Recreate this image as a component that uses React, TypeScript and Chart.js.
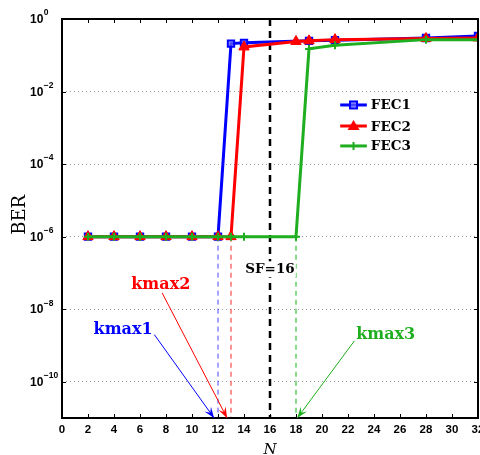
import React, { useEffect, useRef } from "react";
import { Chart, registerables } from "chart.js";

Chart.register(...registerables);

// ---- data ----
const fec1X = [2, 4, 6, 8, 10, 12, 13, 14, 19, 21, 28, 32];
const fec1Y = [1e-6, 1e-6, 1e-6, 1e-6, 1e-6, 1e-6, 0.21, 0.22, 0.25, 0.26, 0.3, 0.34];
const fec2X = [2, 4, 6, 8, 10, 12, 13, 14, 18, 19, 21, 28, 32];
const fec2Y = [1e-6, 1e-6, 1e-6, 1e-6, 1e-6, 1e-6, 1e-6, 0.17, 0.24, 0.25, 0.27, 0.29, 0.3];
const fec3X = [2, 4, 6, 8, 10, 12, 13, 14, 18, 19, 21, 28, 32];
const fec3Y = [1e-6, 1e-6, 1e-6, 1e-6, 1e-6, 1e-6, 1e-6, 1e-6, 1e-6, 0.15, 0.19, 0.27, 0.27];
const seriesNames = ["FEC1", "FEC2", "FEC3"];
const xTicks = [0, 2, 4, 6, 8, 10, 12, 14, 16, 18, 20, 22, 24, 26, 28, 30, 32];
const yTickExps = [0, -2, -4, -6, -8, -10];
const kmaxX = [12, 13, 18];
const kmaxLabels = ["kmax1", "kmax2", "kmax3"];
const sfValue = 16;

const BLUE = "#0000ff";
const RED = "#ff0000";
const GREEN = "#1fae1f";

const pts = (xs: number[], ys: number[]) => xs.map((x, i) => ({ x, y: ys[i] }));

export default function App() {
  const ref = useRef<HTMLCanvasElement | null>(null);
  useEffect(() => {
    const canvas = ref.current!;
    const overlay = {
      id: "overlay",
      afterDraw(chart: any) {
        const ctx = chart.ctx as CanvasRenderingContext2D;
        const xs = chart.scales.x;
        const ys = chart.scales.y;
        const ca = chart.chartArea;
        ctx.save();
        // SF label with white background
        const sfX = xs.getPixelForValue(sfValue);
        ctx.font = "bold 13.5px 'DejaVu Serif'";
        ctx.textBaseline = "middle";
        ctx.textAlign = "center";
        const sfText = "SF=" + sfValue;
        const w = ctx.measureText(sfText).width;
        const sfY = ys.getPixelForValue(Math.pow(10, -6.9));
        ctx.fillStyle = "#fff";
        ctx.fillRect(sfX - w / 2 - 1, sfY - 8, w + 2, 16);
        ctx.fillStyle = "#000";
        ctx.fillText(sfText, sfX, sfY);

        // box
        ctx.strokeStyle = "#000";
        ctx.lineWidth = 2;
        ctx.strokeRect(ca.left, ca.top, ca.right - ca.left, ca.bottom - ca.top);
        // inside ticks
        ctx.lineWidth = 1;
        ctx.beginPath();
        xTicks.forEach((t) => {
          const p = Math.round(xs.getPixelForValue(t)) + 0.5;
          ctx.moveTo(p, ca.bottom);
          ctx.lineTo(p, ca.bottom - 4);
          ctx.moveTo(p, ca.top);
          ctx.lineTo(p, ca.top + 4);
        });
        yTickExps.forEach((e) => {
          const p = Math.round(ys.getPixelForValue(Math.pow(10, e))) + 0.5;
          ctx.moveTo(ca.left, p);
          ctx.lineTo(ca.left + 4, p);
          ctx.moveTo(ca.right, p);
          ctx.lineTo(ca.right - 4, p);
        });
        ctx.stroke();

        // x tick labels
        ctx.fillStyle = "#000";
        ctx.font = "bold 11.5px 'Liberation Sans'";
        ctx.textAlign = "center";
        ctx.textBaseline = "middle";
        xTicks.forEach((t) => {
          ctx.fillText(String(t), xs.getPixelForValue(t), ca.bottom + 12);
        });
        // y tick labels
        yTickExps.forEach((e) => {
          const p = ys.getPixelForValue(Math.pow(10, e));
          ctx.textAlign = "left";
          ctx.font = "bold 12px 'Liberation Sans'";
          ctx.fillText("10", ca.left - 32, p + 1);
          const bw = ctx.measureText("10").width;
          ctx.font = "bold 8.5px 'Liberation Sans'";
          ctx.fillText(e === 0 ? "0" : "\u2212" + String(-e), ca.left - 32 + bw + 0.5, p - 6);
        });
        // axis titles
        ctx.font = "italic 15px 'DejaVu Serif'";
        ctx.textAlign = "center";
        ctx.fillText("N", (ca.left + ca.right) / 2, ca.bottom + 32);
        ctx.save();
        ctx.translate(20, ys.getPixelForValue(Math.pow(10, -5.4)));
        ctx.rotate(-Math.PI / 2);
        ctx.font = "18px 'DejaVu Serif'";
        ctx.fillText("BER", 0, 0);
        ctx.restore();

        // legend
        const colors = [BLUE, RED, GREEN];
        const styles = ["rect", "triangle", "cross"];
        const lx0 = xs.getPixelForValue(21.4);
        const lx1 = xs.getPixelForValue(23.45);
        const rows = [-2.37, -2.95, -3.5];
        seriesNames.forEach((name, i) => {
          const y = ys.getPixelForValue(Math.pow(10, rows[i]));
          ctx.strokeStyle = colors[i];
          ctx.lineWidth = 3;
          ctx.beginPath();
          ctx.moveTo(lx0, y);
          ctx.lineTo(lx1, y);
          ctx.stroke();
          const mx = (lx0 + lx1) / 2;
          ctx.fillStyle = colors[i];
          if (styles[i] === "rect") {
            ctx.lineWidth = 2;
            ctx.fillStyle = "rgba(120,120,255,0.6)";
            ctx.fillRect(mx - 3.5, y - 3.5, 7, 7);
            ctx.strokeRect(mx - 3.5, y - 3.5, 7, 7);
          } else if (styles[i] === "triangle") {
            ctx.beginPath();
            ctx.moveTo(mx, y - 6);
            ctx.lineTo(mx + 6, y + 4);
            ctx.lineTo(mx - 6, y + 4);
            ctx.closePath();
            ctx.fill();
          } else {
            ctx.lineWidth = 2;
            ctx.beginPath();
            ctx.moveTo(mx - 4, y);
            ctx.lineTo(mx + 4, y);
            ctx.moveTo(mx, y - 4);
            ctx.lineTo(mx, y + 4);
            ctx.stroke();
          }
          ctx.fillStyle = "#000";
          ctx.font = "bold 13.5px 'DejaVu Serif'";
          ctx.textAlign = "left";
          ctx.textBaseline = "middle";
          ctx.fillText(name, lx1 + 4, y + 1);
        });

        // kmax annotations with arrows
        const ann = [
          { tx: 4.7, ty: -8.57, sx: 7.1, sy: -8.7 },
          { tx: 7.6, ty: -7.33, sx: 7.7, sy: -7.55 },
          { tx: 24.9, ty: -8.7, sx: 22.5, sy: -8.87 },
        ];
        const tipX = [11.7, 12.7, 18.1];
        kmaxLabels.forEach((lab, i) => {
          const c = colors[i];
          const a = ann[i];
          ctx.fillStyle = c;
          ctx.strokeStyle = c;
          ctx.font = "bold 16px 'DejaVu Serif'";
          ctx.textAlign = "center";
          ctx.textBaseline = "middle";
          ctx.fillText(lab, xs.getPixelForValue(a.tx), ys.getPixelForValue(Math.pow(10, a.ty)));
          const x0 = xs.getPixelForValue(a.sx);
          const y0 = ys.getPixelForValue(Math.pow(10, a.sy));
          const x1 = xs.getPixelForValue(tipX[i]);
          const y1 = ca.bottom;
          ctx.lineWidth = 1;
          ctx.beginPath();
          ctx.moveTo(x0, y0);
          ctx.lineTo(x1, y1);
          ctx.stroke();
          const ang = Math.atan2(y1 - y0, x1 - x0);
          const L = 11;
          const Wd = 4;
          const bx = x1 - L * Math.cos(ang);
          const by = y1 - L * Math.sin(ang);
          ctx.beginPath();
          ctx.moveTo(x1, y1);
          ctx.lineTo(bx + Wd * Math.sin(ang), by - Wd * Math.cos(ang));
          ctx.lineTo(x1 - 0.6 * L * Math.cos(ang), y1 - 0.6 * L * Math.sin(ang));
          ctx.lineTo(bx - Wd * Math.sin(ang), by + Wd * Math.cos(ang));
          ctx.closePath();
          ctx.fill();
        });
        ctx.restore();
      },
    };

    const chart = new Chart(canvas, {
      type: "line",
      data: {
        datasets: [
          {
            label: "FEC1",
            data: pts(fec1X, fec1Y),
            borderColor: BLUE,
            backgroundColor: "rgba(120,120,255,0.6)",
            borderWidth: 3,
            pointStyle: "rect",
            pointRadius: 4.5,
            pointBorderWidth: 2,
            order: 3,
          },
          {
            label: "FEC2",
            data: pts(fec2X, fec2Y),
            borderColor: RED,
            backgroundColor: RED,
            borderWidth: 3,
            pointStyle: "triangle",
            pointRadius: 6,
            pointBorderWidth: 1,
            order: 2,
          },
          {
            label: "FEC3",
            data: pts(fec3X, fec3Y),
            borderColor: GREEN,
            backgroundColor: GREEN,
            borderWidth: 3,
            pointStyle: "cross",
            pointRadius: 4,
            pointBorderWidth: 2,
            order: 1,
          },
          {
            label: "k1",
            data: [{ x: kmaxX[0], y: 1e-6 }, { x: kmaxX[0], y: 1e-11 }],
            borderColor: "rgba(40,40,255,0.85)",
            borderWidth: 1,
            borderDash: [5, 4],
            pointRadius: 0,
            order: 5,
          },
          {
            label: "k2",
            data: [{ x: kmaxX[1], y: 1e-6 }, { x: kmaxX[1], y: 1e-11 }],
            borderColor: "rgba(255,60,60,0.85)",
            borderWidth: 1.3,
            borderDash: [5, 4],
            pointRadius: 0,
            order: 5,
          },
          {
            label: "k3",
            data: [{ x: kmaxX[2], y: 1e-6 }, { x: kmaxX[2], y: 1e-11 }],
            borderColor: "rgba(40,190,40,0.85)",
            borderWidth: 1.3,
            borderDash: [5, 4],
            pointRadius: 0,
            order: 5,
          },
          {
            label: "sf",
            data: [{ x: sfValue, y: 1 }, { x: sfValue, y: 1e-11 }],
            borderColor: "#000",
            borderWidth: 2.5,
            borderDash: [7, 5],
            pointRadius: 0,
            order: 4,
          },
        ],
      },
      options: {
        animation: false,
        responsive: false,
        devicePixelRatio: 1,
        layout: { autoPadding: false, padding: { left: 62, right: 2, top: 19, bottom: 37 } },
        plugins: { legend: { display: false }, tooltip: { enabled: false } },
        scales: {
          x: {
            type: "linear",
            min: 0,
            max: 32,
            ticks: { display: false },
            grid: { display: false, drawTicks: false },
            border: { display: false },
          },
          y: {
            type: "logarithmic",
            min: 1e-11,
            max: 1,
            afterBuildTicks: (s: any) => {
              s.ticks = yTickExps.map((e) => ({ value: Math.pow(10, e) }));
            },
            ticks: { display: false },
            grid: {
              display: true,
              drawTicks: false,
              color: "#999",
              lineWidth: 1,
            },
            border: { display: false, dash: [1, 3] },
          },
        },
      },
      plugins: [overlay],
    });
    return () => chart.destroy();
  }, []);
  return (
    <div style={{ position: "absolute", left: 0, top: 0, width: 480, height: 455, background: "#fff" }}>
      <canvas ref={ref} width={480} height={455} style={{ width: 480, height: 455 }} />
    </div>
  );
}
